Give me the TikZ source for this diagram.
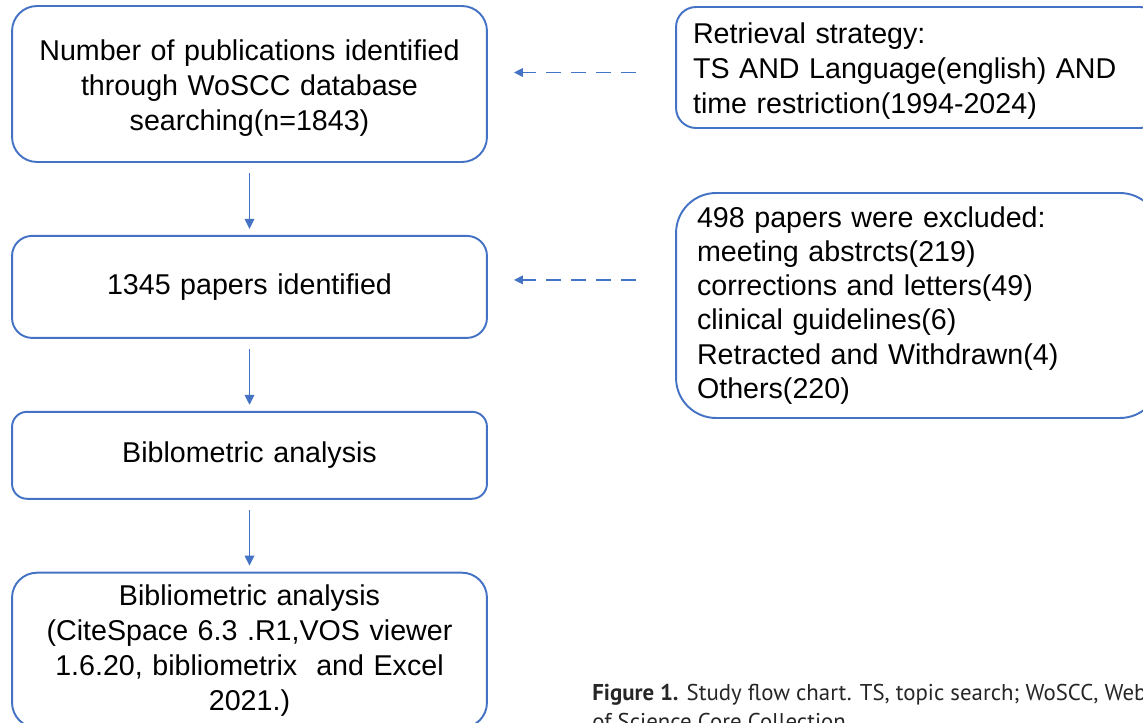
\documentclass[tikz,border=0pt]{standalone}
\usepackage{fontspec}
\setmainfont{Liberation Sans}
\newfontfamily\capfont{PT Sans}
\usetikzlibrary{positioning,arrows.meta,calc}
\definecolor{flowblue}{HTML}{4472C4}

\begin{document}
\begin{tikzpicture}[
    x=0.02cm, y=-0.02cm,
    font=\fontsize{16.3}{19.9}\selectfont,
    box/.style={draw=flowblue, line width=1.1pt, rounded corners=0.4cm, align=center,
                minimum width=9.5cm, text width=9.1cm, inner sep=0pt},
    note/.style={draw=flowblue, line width=1.1pt, align=left,
                 minimum width=9.68cm, inner sep=0pt},
    flow/.style={-{Triangle[length=2mm, width=1.9mm]}, flowblue, line width=1pt,
                 shorten <=0.2cm, shorten >=0.12cm},
    side/.style={-{Triangle[length=1.8mm, width=1.7mm]}, flowblue, line width=1pt,
                 dash pattern=on 0.3cm off 0.2cm},
  ]
  \useasboundingbox (0,0) rectangle (1143,723);
  \clip (0,0) rectangle (1143,723);

  % --- Main flow (left) ---
  \node[box, minimum height=3.12cm, rounded corners=0.5cm] (ident) at (249.5,84)
    {\rule{0pt}{16pt}Number of publications identified\\through WoSCC database\\searching(n=1843)};
  \node[box, minimum height=2.04cm, below=1.44cm of ident] (papers)
    {1345 papers identified};
  \node[box, minimum height=1.74cm, rounded corners=0.3cm, below=1.44cm of papers] (biblo)
    {Biblometric analysis};
  \node[box, minimum height=3.1cm, rounded corners=0.5cm, below=1.44cm of biblo] (tools)
    {Bibliometric analysis\\(CiteSpace 6.3 .R1,VOS viewer\\1.6.20, bibliometrix\ \ and Excel\\2021.)};
  \draw[flow] (ident) -- (papers);
  \draw[flow] (papers) -- (biblo);
  \draw[flow] (biblo) -- (tools);

  % --- Side notes (right) ---
  \node[note, rounded corners=0.4cm, minimum height=2.42cm, text width=9cm,
        inner xsep=0.34cm] (strategy) at (918,67.5)
    {\rule{0pt}{16pt}Retrieval strategy:\\TS AND Language(english) AND\\time restriction(1994-2024)};
  \node[note, rounded corners=0.8cm, minimum height=4.5cm, text width=8.84cm,
        inner xsep=0.42cm, font=\fontsize{16.3}{19.4}\selectfont] (excluded) at (918,305.5)
    {498 papers were excluded:\\meeting abstrcts(219)\\corrections and letters(49)\\clinical guidelines(6)\\Retracted and Withdrawn(4)\\Others(220)\\[20pt]};
  \draw[side, shorten <=0.78cm, shorten >=0.52cm]
    ($(strategy.west)+(0,5)$) -- (ident.east |- {$(strategy.west)+(0,5)$});
  \draw[side, shorten <=0.78cm, shorten >=0.52cm]
    ($(papers.east -| excluded.west)+(0,-7)$) -- ($(papers.east)+(0,-7)$);

  % --- Caption ---
  \node[anchor=base west, inner sep=0pt, align=left,
        font=\capfont\fontsize{13}{16}\selectfont, text=black!85] (caption) at (592,729)
    {\textbf{Figure 1.} Study flow chart. TS, topic search; WoSCC, Web\\of Science Core Collection.};
\end{tikzpicture}
\end{document}
